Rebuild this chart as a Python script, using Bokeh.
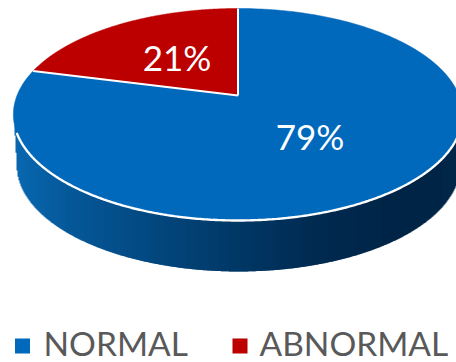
import numpy as np
from bokeh.core.properties import value
from bokeh.embed import file_html
from bokeh.models import Range1d
from bokeh.plotting import figure
from bokeh.resources import INLINE

# Chart data
categories = ["NORMAL", "ABNORMAL"]
shares = [79, 21]
colors = ["#0069BC", "#BC0000"]
labels = ["79%", "21%"]

WIDTH, HEIGHT = 456, 362
FONT = value("Lato")

# Tilted disc: a circle seen in perspective, measured in page pixels
CX, CY = 237.5, 95.0
SPAN_X, SPAN_Y, TILT = 221.0, 102.6, 0.179
DEPTH = 51.0


def project(theta):
    """Project a polar position on the disc rim (0 = top, clockwise) to the page."""
    d = 1 + TILT * np.cos(theta)
    return (CX + SPAN_X * np.sin(theta) / d, CY - SPAN_Y * np.cos(theta) / d)


p = figure(width=WIDTH, height=HEIGHT, output_backend="svg", toolbar_location=None,
           x_range=Range1d(0, WIDTH), y_range=Range1d(HEIGHT, 0),
           min_border=0, outline_line_color=None)
p.axis.visible = False
p.grid.visible = False

# Front half of the rim, from its widest point on the right to the one on the left
t = np.linspace(0, 2 * np.pi, 2881)
all_x, all_y = project(t)
i_right, i_left = int(np.argmax(all_x)), int(np.argmin(all_x))
rim_x = all_x[i_right:i_left + 1][::-1]
rim_y = all_y[i_right:i_left + 1][::-1]

# Lower edge of the wall: the rim dropped by the depth and drawn in slightly
floor_x = CX + (rim_x - CX) * 0.985
floor_y = rim_y + DEPTH
floor_x = np.r_[rim_x[0] + 1.5, floor_x]
floor_y = np.r_[rim_y[0] + 19, floor_y]

# Side wall: one-pixel columns shaded from left to right, each overlapping the next
stops_x = [14, 70, 150, 237, 320, 400, 456]
stops_rgb = np.array([[8, 104, 176], [5, 88, 152], [3, 72, 128],
                      [1, 56, 102], [0, 42, 80], [0, 36, 70], [0, 38, 72]])
strip_x = np.arange(12.0, 457.0)
strip_top = np.interp(strip_x + 0.5, rim_x, rim_y)
strip_bottom = np.interp(strip_x + 0.5, floor_x, floor_y)
keep = strip_x + 0.5 >= floor_x[0]
strip_x, strip_top, strip_bottom = strip_x[keep], strip_top[keep], strip_bottom[keep]
strip_colors = ["#%02x%02x%02x" % tuple(
    int(round(np.interp(x, stops_x, stops_rgb[:, i]))) for i in range(3)) for x in strip_x]
p.quad(left=strip_x, right=strip_x + 2, top=strip_top - 2, bottom=strip_bottom,
       fill_color=strip_colors, line_color=None)

# Disc top: slices laid out clockwise from twelve o'clock
fractions = np.array(shares, dtype=float) / sum(shares)
edges = np.concatenate([[0], np.cumsum(fractions)]) * 2 * np.pi
for i, color in enumerate(colors):
    a = np.linspace(edges[i], edges[i + 1], 240)
    x, y = project(a)
    p.patch(np.r_[CX, x], np.r_[CY, y], fill_color=color, line_color=color, line_width=0.5)

# White slice borders and the bright front rim
for angle in edges[:-1]:
    x, y = project(np.array([angle]))
    p.line([CX, x[0]], [CY, y[0]], line_color="white", line_width=2)
a = np.radians(np.linspace(100, 250, 300))
x, y = project(a)
p.line(x, y, line_color="white", line_width=2.4)

# Percentage labels
p.text(x=[309.5, 176.5], y=[135.5, 56.5], text=labels, text_color="white", text_font=FONT,
       text_font_size="35px", text_align="center", text_baseline="middle")

# Legend
p.rect(x=[22, 239.5], y=[345.5, 345.5], width=15, height=15, fill_color=colors, line_color=None)
p.text(x=[43, 259], y=[342, 342], text=categories, text_color="#595959", text_font=FONT,
       text_font_size="33.5px", text_align="left", text_baseline="middle")

open("out.html", "w").write(file_html(p, INLINE))
